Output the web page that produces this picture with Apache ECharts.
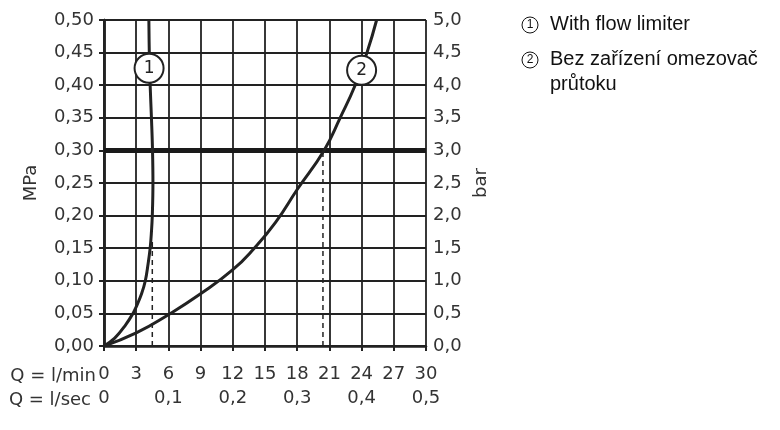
<!DOCTYPE html>
<html>
<head>
<meta charset="utf-8">
<script src="https://cdn.jsdelivr.net/npm/echarts@6/dist/echarts.min.js"></script>
<style>
  html, body { margin: 0; padding: 0; background: #fff; }
  #chart { width: 780px; height: 430px; }
</style>
</head>
<body>
<div id="chart"></div>
<script>
// curve 1: with flow limiter (Q l/min, p MPa)
const limiterQ = [0, 1, 2, 2.7, 3, 3.5, 3.85, 4.1, 4.3, 4.42, 4.5, 4.56, 4.52, 4.42, 4.3, 4.22, 4.18]
const limiterP = [0, 0.012, 0.032, 0.05, 0.06, 0.08, 0.10, 0.125, 0.15, 0.175, 0.20, 0.25, 0.30, 0.35, 0.40, 0.45, 0.50]
// curve 2: without flow limiter
const freeQ = [0, 3, 6, 9, 12, 14, 16, 18, 20.5, 22, 23.4, 24.5, 25.4]
const freeP = [0, 0.02, 0.048, 0.08, 0.117, 0.15, 0.19, 0.24, 0.30, 0.35, 0.40, 0.45, 0.50]
// operating pressure line and drop lines
const refPressure = 0.30
const dropQ = [4.5, 20.4]
const dropP = [0.16, 0.30]
// circled curve numbers
const markerQ = [4.2, 24.0]
const markerP = [0.426, 0.423]
const markerText = ['1', '2']
const legendItems = ['With flow limiter', 'Bez zařízení omezovač', 'průtoku']

const axisFont = 'DejaVu Sans'
const ink = '#222'
const comma = (v, d) => v.toFixed(d).replace('.', ',')

const chart = echarts.init(document.getElementById('chart'))

const curve = (qs, ps) => qs.map((q, i) => [q, ps[i]])

const series = [
  {
    type: 'line', data: curve(limiterQ, limiterP), smooth: 0.4, symbol: 'none',
    lineStyle: { color: ink, width: 3 }, z: 3
  },
  {
    type: 'line', data: curve(freeQ, freeP), smooth: 0.5, symbol: 'none',
    lineStyle: { color: ink, width: 3 }, z: 3
  },
  {
    type: 'line', data: [[0, refPressure], [30, refPressure]], symbol: 'none',
    lineStyle: { color: '#1a1a1a', width: 5 }, z: 2
  }
]
dropQ.forEach((q, i) => {
  series.push({
    type: 'line', data: [[q, 0], [q, dropP[i]]], symbol: 'none',
    lineStyle: { color: ink, width: 1.5, type: [5, 4] }, z: 2
  })
})
series.push({
  type: 'scatter',
  data: markerQ.map((q, i) => [q, markerP[i], markerText[i]]),
  symbol: 'circle', symbolSize: 29, z: 5,
  itemStyle: { color: '#fff', borderColor: ink, borderWidth: 2, opacity: 1 },
  label: {
    show: true, position: 'inside', formatter: p => p.value[2],
    fontFamily: axisFont, fontSize: 17, color: ink
  }
})

const legendGraphics = []
legendItems.forEach((t, i) => {
  const y = [25, 60, 85][i]
  legendGraphics.push({
    type: 'text', left: 550, top: y - 11,
    style: { text: t, font: '20px "Liberation Sans"', fill: '#111' }
  })
})
;['1', '2'].forEach((n, i) => {
  const y = [25, 60][i]
  legendGraphics.push({
    type: 'circle', shape: { cx: 530, cy: y, r: 8 },
    style: { fill: '#fff', stroke: '#111', lineWidth: 1 }
  })
  legendGraphics.push({
    type: 'text', x: 530, y: y,
    style: { text: n, font: '12px "Liberation Sans"', fill: '#111', align: 'center', verticalAlign: 'middle' }
  })
})

chart.setOption({
  animation: false,
  grid: { left: 104, right: 354, top: 20, bottom: 84 },
  xAxis: [
    {
      type: 'value', min: 0, max: 30, interval: 3,
      axisLine: { lineStyle: { color: ink, width: 2.5 } },
      axisTick: { show: true, length: 5, lineStyle: { color: ink, width: 2 } },
      splitLine: { show: true, lineStyle: { color: ink, width: 1.8 } },
      axisLabel: { fontFamily: axisFont, fontSize: 18, color: '#333', margin: 19 }
    },
    {
      type: 'value', min: 0, max: 30, interval: 6, position: 'bottom', offset: 24,
      axisLine: { show: false }, axisTick: { show: false }, splitLine: { show: false },
      axisLabel: {
        fontFamily: axisFont, fontSize: 18, color: '#333', margin: 19,
        formatter: v => v === 0 ? '0' : comma(v / 60, 1)
      }
    }
  ],
  yAxis: [
    {
      type: 'value', min: 0, max: 0.5, interval: 0.05, position: 'left',
      name: 'MPa', nameLocation: 'middle', nameRotate: 90, nameGap: 64,
      nameTextStyle: { fontFamily: axisFont, fontSize: 18, color: '#333' },
      axisLine: { show: true, lineStyle: { color: ink, width: 2.5 } },
      axisTick: { show: true, length: 5, lineStyle: { color: ink, width: 2 } },
      splitLine: { show: true, lineStyle: { color: ink, width: 1.8 } },
      axisLabel: { fontFamily: axisFont, fontSize: 18, color: '#333', margin: 10, formatter: v => comma(v, 2) }
    },
    {
      type: 'value', min: 0, max: 5, interval: 0.5, position: 'right',
      name: 'bar', nameLocation: 'middle', nameRotate: 90, nameGap: 46,
      nameTextStyle: { fontFamily: axisFont, fontSize: 18, color: '#333' },
      axisLine: { show: true, lineStyle: { color: ink, width: 2.5 } },
      axisTick: { show: true, length: 5, lineStyle: { color: ink, width: 2 } },
      splitLine: { show: false },
      axisLabel: { fontFamily: axisFont, fontSize: 18, color: '#333', margin: 7, formatter: v => comma(v, 1) }
    }
  ],
  graphic: [
    {
      type: 'text', right: 780 - 96, top: 367,
      style: { text: 'Q = l/min', font: '18px "DejaVu Sans"', fill: '#333' }
    },
    {
      type: 'text', right: 780 - 91, top: 391,
      style: { text: 'Q = l/sec', font: '18px "DejaVu Sans"', fill: '#333' }
    },
    ...legendGraphics
  ],
  series: series
})
</script>
</body>
</html>
